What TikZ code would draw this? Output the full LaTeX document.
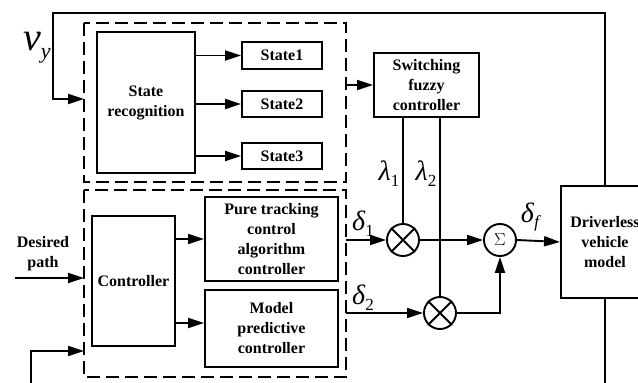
\documentclass[tikz,border=0pt]{standalone}
\usepackage{fontspec}
\setmainfont{Liberation Serif}
\usetikzlibrary{arrows.meta, positioning}

% italic symbol with a lowered index
\newcommand{\symidx}[3]{\textit{#1}\raisebox{-0.45ex}{\fontsize{#3}{#3}\selectfont #2}}

\tikzset{
	blk/.style={draw, line width=1.9pt, font=\bfseries\fontsize{16}{20}\selectfont, align=center, inner sep=0pt},
	mult/.style={draw, circle, line width=1.9pt, minimum size=32pt, inner sep=0pt},
	dashbox/.style={line width=1.9pt, dash pattern=on 13pt off 6pt},
	wire/.style={line width=1.9pt},
	sig/.style={line width=1.9pt, -{Triangle[length=16pt, width=10pt]}},
	sym/.style={font=\fontsize{28}{28}\selectfont, inner sep=0pt},
}

\begin{document}
\begin{tikzpicture}[x=1pt, y=-1pt]
	\useasboundingbox (0,0) rectangle (638,383);
	
	% the two groups
	\draw[dashbox] (84,23) rectangle (346,182);
	\draw[dashbox] (84,190) rectangle (346,377);
	
	% state part
	\node[blk, minimum width=98pt, minimum height=141pt] (SR) at (146,102.5) {State\\recognition};
	\node[blk, minimum width=80pt, minimum height=27pt] (S1) at (282,55.5) {State1};
	\node[blk, minimum width=80pt, minimum height=26pt] (S2) at (282,104) {State2};
	\node[blk, minimum width=80pt, minimum height=26pt] (S3) at (282,156) {State3};
	\node[blk, minimum width=105pt, minimum height=64pt] (SFC) at (426.5,85) {Switching\\fuzzy\\controller};
	
	% controller part
	\node[blk, minimum width=83pt, minimum height=130pt] (CTRL) at (133.5,281) {Controller};
	\node[blk, minimum width=133pt, minimum height=84pt] (PT) at (271.5,239) {Pure tracking\\control\\algorithm\\controller};
	\node[blk, minimum width=133pt, minimum height=77pt] (MPC) at (271.5,328.5) {Model\\predictive\\controller};
	
	% weighting and sum
	\node[mult] (M1) at (403,240) {};
	\node[mult] (M2) at (440,313) {};
	\node[mult, font=\fontsize{19}{19}\selectfont] (SUM) at (500,240) {$\Sigma$};
	\node[blk, minimum width=88pt, minimum height=112pt] (DVM) at (605,242) {Driverless\\vehicle\\model};
	
	\foreach \m in {M1, M2}
		\draw[wire] (\m.north east) -- (\m.south west) (\m.north west) -- (\m.south east);
	
	\coordinate (UIN) at (84,99);
	\coordinate (UOUT) at (346,85);
	\coordinate (DIN) at (84,278);
	\coordinate (FIN) at (84,351);
	\coordinate (D1) at (346,240);
	\coordinate (D2) at (346,313);
	\coordinate (PATH) at (15,278);
	\coordinate (TOPR) at (605,13);
	\coordinate (TOPL) at (53,13);
	\coordinate (BOTR) at (605,383);
	\coordinate (BOTL) at (31,383);
	
	% signals
	\draw[sig] (SR.east |- S1.west) -- (S1.west);
	\draw[sig] (SR.east |- S2.west) -- (S2.west);
	\draw[sig] (SR.east |- S3.west) -- (S3.west);
	\draw[sig] (UOUT) -- (SFC.west |- UOUT);
	\draw[sig] (CTRL.east |- PT.west) -- (PT.west);
	\draw[sig] (CTRL.east |- 0,323) -- (MPC.west |- 0,323);
	\draw[sig] (PATH) -- (DIN);
	\draw[sig] (D1) -- (M1.west);
	\draw[sig] (D2) -- (M2.west);
	\draw[wire] (M1.north) -- (M1.north |- SFC.south);
	\draw[wire] (M2.north) -- (M2.north |- SFC.south);
	\draw[sig] (M1.east) -- (SUM.west);
	\draw[sig] (M2.east) -| (SUM.south);
	\draw[sig] (SUM.east) -- (DVM.west);
	
	% feedback of v_y
	\draw[sig] (DVM.north) -- (TOPR) -- (TOPL) |- (UIN);
	\draw[wire] (DVM.south) -- (BOTR);
	\draw[sig] (BOTL) |- (FIN);
	
	% labels
	\node[inner sep=0pt] (VY) at (37,48) {\fontsize{40}{40}\selectfont\symidx{v}{\textit{y}}{22}};
	\node[font=\bfseries\fontsize{16}{20}\selectfont, align=center, inner sep=0pt] (DP) at (43,254) {Desired\\path};
	\node[sym] (D1L) at (363,224) {\symidx{δ}{1}{17}};
	\node[sym] (D2L) at (363,298) {\symidx{δ}{2}{17}};
	\node[sym] (DFL) at (531,217) {\symidx{δ}{\textit{f}}{17}};
	\node[sym] (L1L) at (389,174) {\symidx{λ}{1}{17}};
	\node[sym] (L2L) at (426,174) {\symidx{λ}{2}{17}};
\end{tikzpicture}
\end{document}
